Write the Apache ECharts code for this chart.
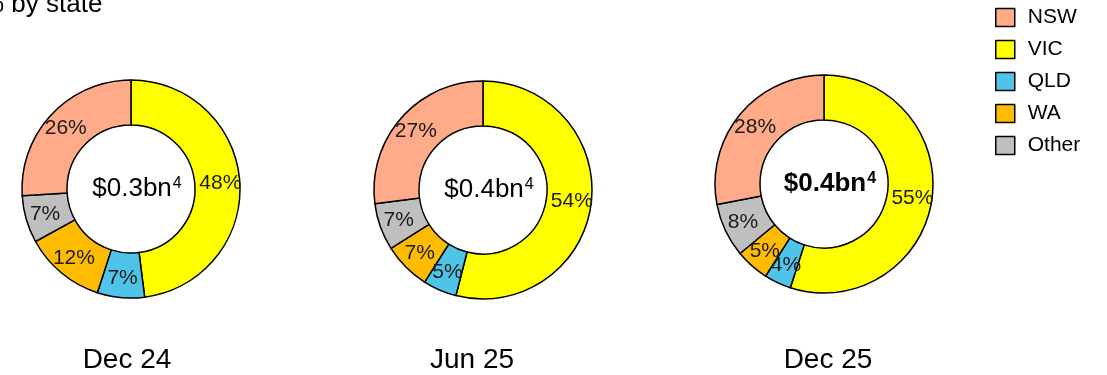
<!DOCTYPE html>
<html>
<head>
<meta charset="utf-8">
<script src="https://cdn.jsdelivr.net/npm/echarts@6/dist/echarts.min.js"></script>
<style>
  html, body { margin: 0; padding: 0; background: #fff; }
  #chart { width: 1107px; height: 375px; }
</style>
</head>
<body>
<div id="chart"></div>
<script>
// data
var states = ['VIC', 'QLD', 'WA', 'Other', 'NSW'];   // clockwise from 12 o'clock
var legendOrder = ['NSW', 'VIC', 'QLD', 'WA', 'Other'];
var stateColors = { NSW: '#FFAA88', VIC: '#FFFF00', QLD: '#4FC3E8', WA: '#FFBB00', Other: '#BFBFBF' };
var periods = ['Dec 24', 'Jun 25', 'Dec 25'];
var totals = ['$0.3bn', '$0.4bn', '$0.4bn'];
var shares = [
    [48, 7, 12, 7, 26],
    [54, 5, 7, 7, 27],
    [55, 4, 5, 8, 28]
];

var centers = [[131, 189], [483, 190], [824, 184]];
var periodX = [127, 472, 828];
var font = 'Liberation Sans, Arial, sans-serif';

var series = shares.map(function (vals, i) {
    return {
        type: 'pie',
        radius: [64, 109],
        center: centers[i],
        startAngle: 90,
        clockwise: true,
        animation: false,
        silent: true,
        avoidLabelOverlap: false,
        labelLayout: { hideOverlap: false },
        itemStyle: { borderColor: '#000', borderWidth: 1.5 },
        label: {
            show: true,
            position: 'inside',
            formatter: '{c}%',
            color: '#1a1a1a',
            fontSize: 21,
            fontFamily: font
        },
        labelLine: { show: false },
        data: states.map(function (s, j) {
            return { name: s, value: vals[j], itemStyle: { color: stateColors[s] } };
        })
    };
});

var graphics = [{
    type: 'text',
    x: -19,
    y: 5,
    style: { text: '% by state', font: '26px ' + font, fill: '#000', verticalAlign: 'middle' }
}];

periods.forEach(function (p, i) {
    graphics.push({
        type: 'text',
        x: periodX[i],
        y: 360,
        style: { text: p, font: '28px ' + font, fill: '#000', align: 'center', verticalAlign: 'middle' }
    });
    // total in the hole, nudged right as in the source
    graphics.push({
        type: 'text',
        x: centers[i][0] + 6,
        y: centers[i][1],
        style: {
            text: '{m|' + totals[i] + '}{s|4}',
            align: 'center',
            verticalAlign: 'middle',
            rich: {
                m: { fontSize: 26, fontFamily: font, fill: '#000', fontWeight: i === 2 ? 'bold' : 'normal', verticalAlign: 'bottom' },
                s: { fontSize: 16, fontFamily: font, fill: '#000', fontWeight: i === 2 ? 'bold' : 'normal', verticalAlign: 'top', padding: [0, 0, 10, 1] }
            }
        }
    });
});

var chart = echarts.init(document.getElementById('chart'));
chart.setOption({
    backgroundColor: '#fff',
    legend: {
        data: legendOrder,
        orient: 'vertical',
        left: 995,
        top: 7,
        padding: 0,
        icon: 'rect',
        itemWidth: 19,
        itemHeight: 18,
        itemGap: 11,
        selectedMode: false,
        itemStyle: { borderColor: '#000', borderWidth: 1.5 },
        textStyle: { fontSize: 21, lineHeight: 18, fontFamily: font, color: '#000', padding: [0, 0, 0, 8] }
    },
    series: series,
    graphic: graphics
});
</script>
</body>
</html>
